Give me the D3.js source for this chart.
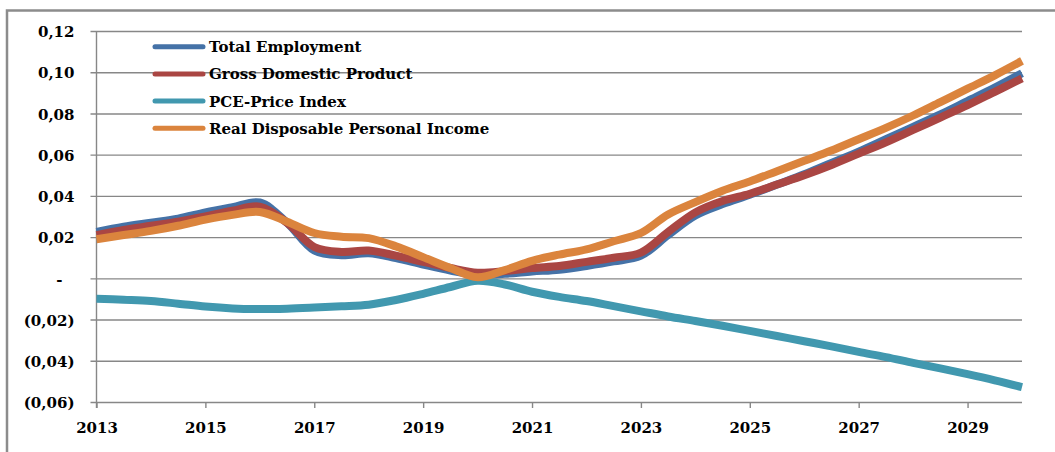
<!DOCTYPE html>
<html>
<head>
<meta charset="utf-8">
<script src="https://cdn.jsdelivr.net/npm/d3@7"></script>
<style>
  body { margin: 0; background: #fff; }
  svg { display: block; }
</style>
</head>
<body>
<div class="visHolder"></div>
<script>
// half-year points
const years = [2013, 2013.5, 2014, 2014.5, 2015, 2015.5, 2016, 2016.5, 2017, 2017.5,
  2018, 2018.5, 2019, 2019.5, 2020, 2020.5, 2021, 2021.5, 2022, 2022.5,
  2023, 2023.5, 2024, 2024.5, 2025, 2025.5, 2026, 2026.5, 2027, 2027.5,
  2028, 2028.5, 2029, 2029.5, 2030];

const totalEmployment = [0.0225, 0.025, 0.027, 0.029, 0.032, 0.0345, 0.0368, 0.027, 0.0135, 0.0112,
  0.0122, 0.0098, 0.0067, 0.0038, 0.0017, 0.0022, 0.0033, 0.0042, 0.006, 0.0082,
  0.011, 0.021, 0.0305, 0.036, 0.0405, 0.0455, 0.0505, 0.056, 0.0615, 0.0675,
  0.0735, 0.0795, 0.086, 0.0925, 0.0995];

const gdp = [0.021, 0.0235, 0.0255, 0.0275, 0.030, 0.0328, 0.0348, 0.027, 0.0152, 0.0128,
  0.0135, 0.011, 0.008, 0.005, 0.0027, 0.0035, 0.005, 0.006, 0.008, 0.010,
  0.0125, 0.0225, 0.032, 0.0375, 0.041, 0.0455, 0.050, 0.055, 0.0605, 0.066,
  0.072, 0.078, 0.084, 0.0905, 0.097];

const pcePrice = [-0.0099, -0.0104, -0.011, -0.0123, -0.0137, -0.0146, -0.0149, -0.0147, -0.0142, -0.0136,
  -0.0128, -0.0105, -0.0075, -0.0042, -0.0012, -0.003, -0.0065, -0.009, -0.011, -0.0135,
  -0.016, -0.0185, -0.0207, -0.023, -0.0255, -0.028, -0.0305, -0.033, -0.0357, -0.0382,
  -0.041, -0.0437, -0.0465, -0.0495, -0.0528];

const realIncome = [0.019, 0.021, 0.023, 0.0255, 0.0285, 0.0308, 0.0322, 0.0275, 0.022, 0.0202,
  0.0195, 0.0155, 0.0103, 0.005, 0.0005, 0.004, 0.0085, 0.0115, 0.014, 0.018,
  0.022, 0.031, 0.037, 0.0425, 0.047, 0.052, 0.057, 0.062, 0.0675, 0.073,
  0.079, 0.0855, 0.092, 0.0985, 0.1055];

const seriesNames = ['Total Employment', 'Gross Domestic Product', 'PCE-Price Index', 'Real Disposable Personal Income'];
const seriesColors = ['#4572a7', '#aa4643', '#4198af', '#db843d'];
const yTicks = [-0.06, -0.04, -0.02, 0, 0.02, 0.04, 0.06, 0.08, 0.10, 0.12];
const xTicks = [2013, 2015, 2017, 2019, 2021, 2023, 2025, 2027, 2029];

const w = 1055, h = 452;
const plotLeft = 96.5, plotRight = 1022, plotTop = 31, plotBottom = 402;
const font = "'DejaVu Serif', serif";

const svg = d3.select('.visHolder')
  .append('svg')
  .attr('width', w)
  .attr('height', h);

// outer frame of the chart object
svg.append('path')
  .attr('d', `M7,${h + 5} V10.5 H${w + 5}`)
  .attr('fill', 'none')
  .attr('stroke', '#8c8c8c')
  .attr('stroke-width', 2.5);

const xScale = d3.scaleLinear().domain([2013, 2030]).range([plotLeft, plotRight]);
const yScale = d3.scaleLinear().domain([-0.06, 0.12]).range([plotBottom, plotTop]);

const fmt = v => {
  if (Math.abs(v) < 1e-9) return '-';
  const s = d3.format('.2f')(Math.abs(v)).replace('.', ',');
  return v < 0 ? `(${s})` : s;
};

// y axis with gridlines
const yAxis = d3.axisLeft(yScale)
  .tickValues(yTicks)
  .tickSize(-(plotRight - plotLeft))
  .tickSizeOuter(0)
  .tickPadding(22)
  .tickFormat(fmt);

const gy = svg.append('g')
  .attr('id', 'y-axis')
  .attr('transform', `translate(${plotLeft}, 0)`)
  .call(yAxis);
gy.select('.domain').remove();
gy.selectAll('.tick line')
  .attr('x1', -6)
  .attr('stroke', '#878787')
  .attr('stroke-width', 1.4);
gy.selectAll('.tick text')
  .attr('font-family', font)
  .attr('font-size', 15)
  .attr('font-weight', 'bold')
  .attr('fill', '#000')
  .attr('x', d => Math.abs(d) < 1e-9 ? -34 : -22)
  .attr('dy', '0.38em');

svg.append('line')
  .attr('x1', plotLeft).attr('x2', plotLeft)
  .attr('y1', plotTop).attr('y2', plotBottom + 6)
  .attr('stroke', '#878787')
  .attr('stroke-width', 1.4);

// x axis
const xAxis = d3.axisBottom(xScale)
  .tickValues(xTicks)
  .tickSize(6)
  .tickSizeOuter(0)
  .tickPadding(14)
  .tickFormat(d3.format('d'));

const gx = svg.append('g')
  .attr('id', 'x-axis')
  .attr('transform', `translate(0, ${plotBottom})`)
  .call(xAxis);
gx.select('.domain').remove();
gx.selectAll('.tick line')
  .attr('stroke', '#878787')
  .attr('stroke-width', 1.4);
gx.selectAll('.tick text')
  .attr('font-family', font)
  .attr('font-size', 15)
  .attr('font-weight', 'bold')
  .attr('fill', '#000');

// lines
const allSeries = [totalEmployment, gdp, pcePrice, realIncome];
const line = d3.line()
  .x(d => xScale(d[0]))
  .y(d => yScale(d[1]))
  .curve(d3.curveCatmullRom.alpha(0.5));

allSeries.forEach((vals, i) => {
  svg.append('path')
    .datum(years.map((y, j) => [y, vals[j]]))
    .attr('fill', 'none')
    .attr('stroke', seriesColors[i])
    .attr('stroke-width', 8)
    .attr('stroke-linejoin', 'round')
    .attr('d', line);
});

// legend
const legendY = d3.scaleLinear().domain([0, 3]).range([46.7, 128.3]);
const legend = svg.append('g').attr('id', 'legend');
seriesNames.forEach((name, i) => {
  legend.append('line')
    .attr('x1', 155).attr('x2', 203)
    .attr('y1', legendY(i)).attr('y2', legendY(i))
    .attr('stroke', seriesColors[i])
    .attr('stroke-width', 5)
    .attr('stroke-linecap', 'round');
  legend.append('text')
    .attr('x', 209)
    .attr('y', legendY(i))
    .attr('dy', '0.36em')
    .attr('font-family', font)
    .attr('font-size', 15)
    .attr('font-weight', 'bold')
    .attr('fill', '#000')
    .text(name);
});
</script>
</body>
</html>
